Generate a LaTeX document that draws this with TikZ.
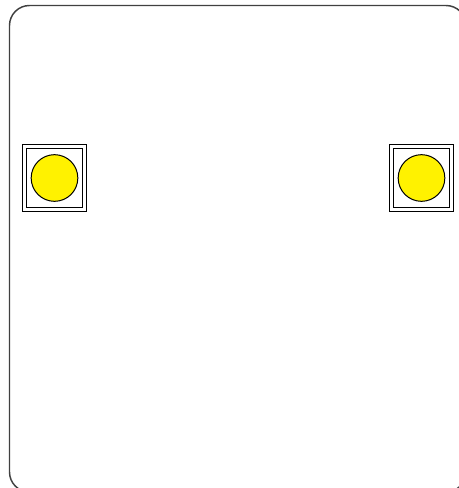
\documentclass[tikz,border=0pt]{standalone}

\begin{document}
\begin{tikzpicture}[x=0.75pt, y=-0.75pt,
  frame/.style={draw=black!75, line width=1.1pt, rounded corners=15pt},
  holder/.style={draw, double, line width=0.75pt, double distance=2.6pt,
    minimum width=45pt, minimum height=47.5pt, inner sep=0pt},
  lamp/.style={circle, draw, fill=yellow, line width=0.75pt,
    minimum size=35pt, inner sep=0pt}]
  \useasboundingbox (0,0) rectangle (459,488);
  % outer casing, runs off the page at right and bottom
  \begin{scope}
    \clip (0,0) rectangle (459,488);
    \draw[frame] (9.5,5.5) rectangle (466,492);
  \end{scope}
  % left lamp
  \node[holder] (holderL) at (54.5,178) {};
  \node[lamp]   (lampL)   at (holderL.center) {};
  % right lamp
  \node[holder] (holderR) at (421.5,178) {};
  \node[lamp]   (lampR)   at (holderR.center) {};
\end{tikzpicture}
\end{document}
